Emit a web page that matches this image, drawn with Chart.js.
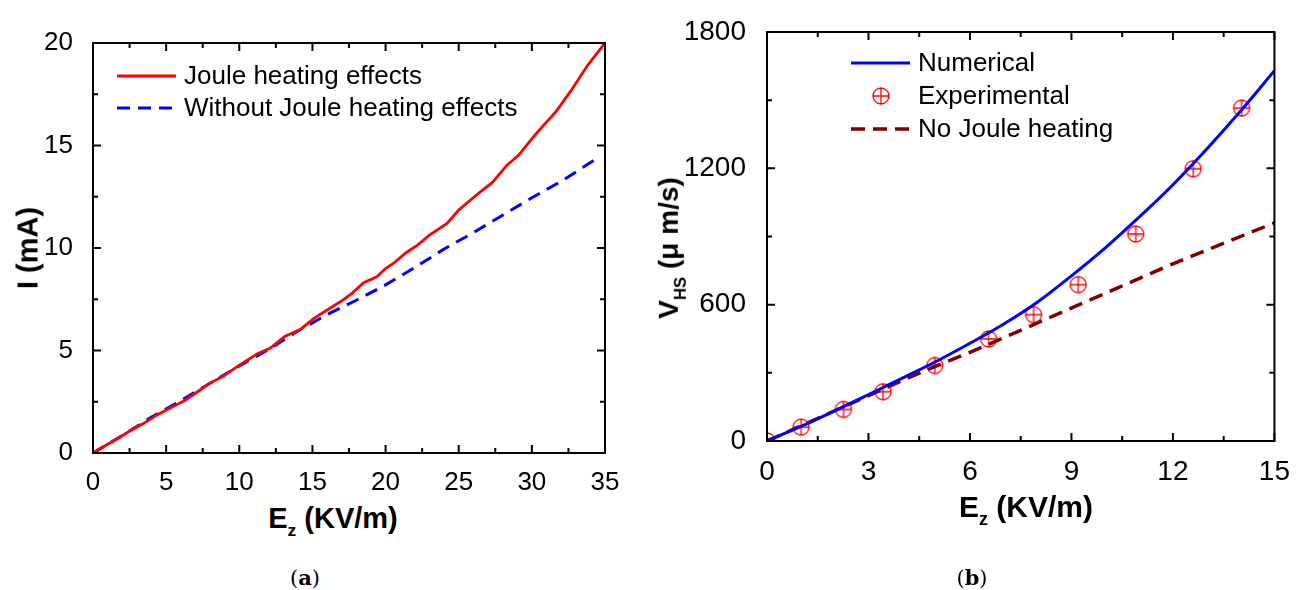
<!DOCTYPE html>
<html>
<head>
<meta charset="utf-8">
<script src="https://cdn.jsdelivr.net/npm/chart.js@4.4.1/dist/chart.umd.min.js"></script>
<style>
  body { margin: 0; background: #fff; width: 1296px; height: 590px; overflow: hidden; position: relative; font-family: "Liberation Sans", Arial, sans-serif; }
  .box { position: absolute; top: 0; width: 648px; height: 500px; }
  .lbl { position: absolute; white-space: nowrap; line-height: 1; font-weight: bold; color: #000; transform: translate(-50%, -50%); }
  .rot { transform: translate(-50%, -50%) rotate(-90deg); }
  .lbl sub { font-size: 0.6em; vertical-align: -0.45em; }
  .cap { position: absolute; font-family: "DejaVu Serif", "Liberation Serif", serif; font-size: 21px; transform: translate(-50%, -50%); line-height: 1; }
</style>
</head>
<body>
<div class="box" style="left:0"><canvas id="chartA" width="648" height="500"></canvas></div>
<div class="box" style="left:648px"><canvas id="chartB" width="648" height="500"></canvas></div>

<div class="lbl rot" style="left:28px; top:248px; font-size:29px">I (mA)</div>
<div class="lbl" style="left:333px; top:522px; font-size:29px">E<sub>z</sub> (KV/m)</div>
<div class="lbl rot" style="left:672px; top:248px; font-size:28px">V<sub>HS</sub> (μ m/s)</div>
<div class="lbl" style="left:1026px; top:510px; font-size:30px">E<sub>z</sub> (KV/m)</div>
<div class="cap" style="left:305px; top:578px">(<b>a</b>)</div>
<div class="cap" style="left:972px; top:578px">(<b>b</b>)</div>

<script>
// (a) current vs field
const jouleE = [0, 0.74, 1.54, 2.46, 3.5, 4.41, 5.33, 6.25, 7.17, 7.98, 8.78, 9.7, 10.6, 11.3, 12.1, 13.1, 14.2, 15.1, 16.2, 17.1, 17.7, 18.5, 19.4, 20.0, 20.6, 21.4, 22.2, 23.0, 24.2, 25.0, 25.8, 26.5, 27.3, 28.3, 29.1, 30.2, 31.7, 32.7, 33.8, 35.0]
const jouleI = [0, 0.32, 0.65, 1.05, 1.46, 1.87, 2.22, 2.55, 3.0, 3.41, 3.69, 4.14, 4.55, 4.87, 5.11, 5.68, 6.04, 6.57, 7.06, 7.47, 7.79, 8.31, 8.6, 9.0, 9.29, 9.77, 10.15, 10.63, 11.2, 11.85, 12.34, 12.75, 13.2, 14.04, 14.53, 15.5, 16.7, 17.7, 18.9, 20.0]
const withoutE = [0, 2, 4, 6, 8, 10, 12, 14, 16, 18, 20, 22, 24, 26, 28, 30, 32, 34.3]
const withoutI = [0, 0.85, 1.75, 2.55, 3.4, 4.25, 5.05, 5.95, 6.75, 7.45, 8.2, 9.05, 9.95, 10.75, 11.6, 12.45, 13.25, 14.3]

// (b) velocity vs field
const numE = [0, 1, 2, 3, 4, 5, 6, 7, 8, 9, 10, 11, 12, 13, 14, 15]
const numV = [0, 64, 133, 204, 277, 350, 430, 515, 612, 727, 850, 985, 1128, 1285, 1452, 1630]
const expE = [0, 1.01, 2.26, 3.43, 4.96, 6.55, 7.88, 9.2, 10.9, 12.6, 14.03]
const expV = [0, 61, 139, 217, 332, 449, 556, 688, 911, 1198, 1465]
const noJouleE = [0, 1, 2, 3, 4, 5, 6, 7, 8, 9, 10, 11, 12, 13, 14, 15]
const noJouleV = [0, 66, 133, 200, 266, 330, 390, 455, 520, 585, 650, 715, 780, 840, 900, 960]

const FONT = '"Liberation Sans", Arial, sans-serif'
const pts = (xs, ys) => xs.map((x, i) => ({ x, y: ys[i] }))

// circle with a plus inside for the experimental points
const plusCircle = document.createElement('canvas')
plusCircle.width = 20
plusCircle.height = 20
{
  const c = plusCircle.getContext('2d')
  c.strokeStyle = '#ff0000'
  c.lineWidth = 1.3
  c.beginPath()
  c.arc(10, 10, 8, 0, Math.PI * 2)
  c.moveTo(2, 10); c.lineTo(18, 10)
  c.moveTo(10, 2); c.lineTo(10, 18)
  c.stroke()
}

// box frame with inward major/minor ticks on all four sides
const frameTicks = {
  id: 'frameTicks',
  afterDatasetsDraw(chart, args, opts) {
    const { ctx, chartArea: a, scales: { x, y } } = chart
    ctx.save()
    ctx.strokeStyle = '#000'
    ctx.lineWidth = 2
    ctx.strokeRect(a.left, a.top, a.right - a.left, a.bottom - a.top)
    ctx.beginPath()
    for (let i = 0; x.min + i * opts.xMinor <= x.max + 1e-9; i++) {
      const px = x.getPixelForValue(x.min + i * opts.xMinor)
      const len = i % 2 === 0 ? 8 : 5
      ctx.moveTo(px, a.bottom); ctx.lineTo(px, a.bottom - len)
      ctx.moveTo(px, a.top); ctx.lineTo(px, a.top + len)
    }
    for (let i = 0; y.min + i * opts.yMinor <= y.max + 1e-9; i++) {
      const py = y.getPixelForValue(y.min + i * opts.yMinor)
      const len = i % 2 === 0 ? 8 : 5
      ctx.moveTo(a.left, py); ctx.lineTo(a.left + len, py)
      ctx.moveTo(a.right, py); ctx.lineTo(a.right - len, py)
    }
    ctx.stroke()
    ctx.restore()
  },
}

// legend placed inside the plot
const innerLegend = {
  id: 'innerLegend',
  afterDraw(chart, args, opts) {
    const { ctx } = chart
    ctx.save()
    ctx.font = opts.size + 'px ' + FONT
    ctx.textBaseline = 'middle'
    ctx.fillStyle = '#000'
    opts.order.forEach((di, row) => {
      const ds = chart.data.datasets[di]
      const yy = opts.y + row * opts.gap
      if (ds.showLine === false) {
        ctx.drawImage(plusCircle, opts.x + 30 - 10, yy - 10)
      } else {
        ctx.strokeStyle = ds.borderColor
        ctx.lineWidth = ds.borderWidth
        ctx.setLineDash(ds.borderDash || [])
        ctx.beginPath()
        ctx.moveTo(opts.x, yy)
        ctx.lineTo(opts.x + 59, yy)
        ctx.stroke()
        ctx.setLineDash([])
      }
      ctx.fillText(ds.label, opts.x + 67, yy + 1)
    })
    ctx.restore()
  },
}

const axis = (min, max, step, size, fit, pad) => ({
  type: 'linear',
  min, max,
  grid: { display: false },
  border: { display: false },
  ticks: {
    stepSize: step,
    color: '#000',
    font: { family: FONT, size },
    padding: pad,
    callback: (value) => String(value),
  },
  afterFit: fit,
})

new Chart(document.getElementById('chartA'), {
  type: 'line',
  data: {
    datasets: [
      {
        label: 'Joule heating effects',
        data: pts(jouleE, jouleI),
        borderColor: '#ff0000',
        borderWidth: 2.8,
        pointRadius: 0,
        tension: 0,
      },
      {
        label: 'Without Joule heating effects',
        data: pts(withoutE, withoutI),
        borderColor: '#0000ff',
        borderWidth: 3,
        borderDash: [13, 8],
        pointRadius: 0,
        tension: 0,
      },
    ],
  },
  options: {
    responsive: false,
    animation: false,
    layout: { padding: { left: 0, top: 43, right: 43, bottom: 0 } },
    scales: {
      x: axis(0, 35, 5, 26, (s) => { s.height = 47 }, 6),
      y: axis(0, 20, 5, 26, (s) => { s.width = 93 }, 12),
    },
    plugins: {
      legend: { display: false },
      tooltip: { enabled: false },
      frameTicks: { xMinor: 2.5, yMinor: 2.5 },
      innerLegend: { x: 117, y: 76, gap: 32, size: 26, order: [0, 1] },
    },
  },
  plugins: [frameTicks, innerLegend],
})

new Chart(document.getElementById('chartB'), {
  type: 'line',
  data: {
    datasets: [
      {
        label: 'Numerical',
        data: pts(numE, numV),
        borderColor: '#0000ff',
        borderWidth: 3,
        pointRadius: 0,
        cubicInterpolationMode: 'monotone',
      },
      {
        label: 'No Joule heating',
        data: pts(noJouleE, noJouleV),
        borderColor: '#800000',
        borderWidth: 3.5,
        borderDash: [14, 8],
        pointRadius: 0,
        cubicInterpolationMode: 'monotone',
      },
      {
        label: 'Experimental',
        data: pts(expE, expV),
        showLine: false,
        pointStyle: plusCircle,
        pointRadius: 8,
        borderColor: '#ff0000',
      },
    ],
  },
  options: {
    responsive: false,
    animation: false,
    layout: { padding: { left: 0, top: 32, right: 19, bottom: 0 } },
    scales: {
      x: axis(0, 15, 3, 28, (s) => { s.height = 59 }, 6),
      y: axis(0, 1800, 600, 28, (s) => { s.width = 119 }, 13),
    },
    plugins: {
      legend: { display: false },
      tooltip: { enabled: false },
      frameTicks: { xMinor: 1.5, yMinor: 300 },
      innerLegend: { x: 203, y: 63, gap: 33, size: 26, order: [0, 2, 1] },
    },
  },
  plugins: [frameTicks, innerLegend],
})
</script>
</body>
</html>
